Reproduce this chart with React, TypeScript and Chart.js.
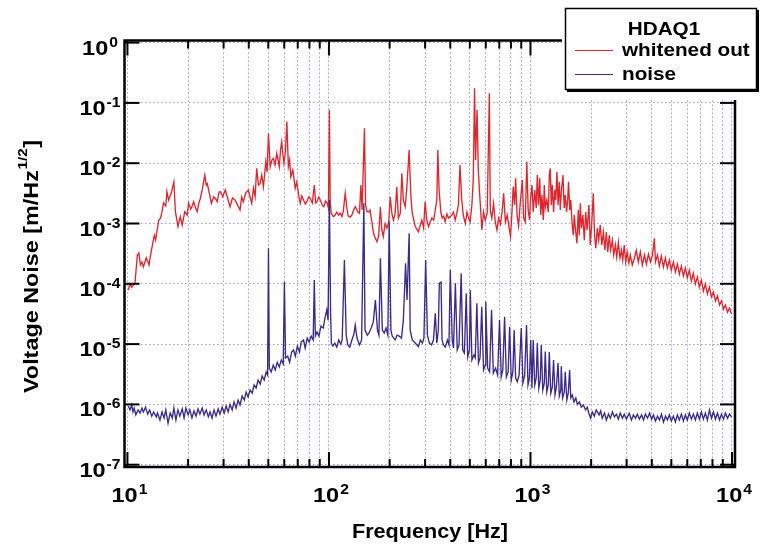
import { useEffect, useRef } from "react";
import { Chart, registerables } from "chart.js";

Chart.register(...registerables);

// ---------- data ----------
const whitenedFreq = [
  10.1, 10.3, 10.5, 10.9, 11.2, 11.4, 11.6, 11.8, 12.0, 12.4, 12.8, 13.0, 13.3, 13.6, 13.8, 14.0, 14.3, 14.6, 14.85, 15.1,
  15.5, 15.7, 16.0, 16.5, 17.0, 17.3, 17.6, 17.8, 18.3, 18.7, 19.25, 19.8, 20.1, 20.6, 20.9, 21.3, 21.8, 22.2, 22.6, 23.0,
  23.5, 24.2, 24.6, 24.9, 25.5, 26.1, 26.8, 27.4, 27.9, 28.5, 29.0, 29.7, 30.6, 31.6, 32.3, 33.2, 34.2, 35.2, 36.2, 36.9,
  37.6, 38.6, 39.8, 40.6, 41.4, 42.2, 43.0, 43.8, 44.7, 45.5, 46.4, 47.3, 48.6, 49.3, 50.1, 51.1, 52.1, 53.0, 54.0, 55.1,
  55.9, 56.7, 57.5, 58.3, 59.1, 59.8, 60.9, 61.8, 62.9, 63.8, 64.7, 66.2, 67.2, 68.0, 69.2, 70.6, 72.0, 73.3, 74.8, 76.3,
  77.7, 79.4, 80.8, 82.7, 84.6, 85.9, 87.3, 88.9, 90.7, 92.5, 94.3, 96.2, 98.1, 99.4, 100.5, 101.4, 102.5, 105.3, 107.3, 109.4,
  111.5, 113.7, 116, 118, 120.4, 122.7, 124.6, 127.4, 130, 132.6, 135, 136.5, 139, 141.7, 144, 146, 150, 152, 154.3, 157.5,
  160, 163.3, 166.4, 169.7, 173, 176.5, 180, 183, 186, 190, 194, 198, 201.4, 205.4, 209, 213, 217, 221, 226, 230,
  234, 239, 243, 250, 255, 259, 268, 278, 284, 289, 295, 300, 306, 312, 318, 324, 331, 337, 343, 347,
  352, 359, 365, 371, 377, 385, 392, 400, 407, 415, 423, 431, 439, 447, 456, 464, 475, 484, 493, 502,
  512, 520, 528, 534, 543, 551, 560, 574, 585, 596, 610, 625, 632, 643, 656, 669, 682, 695, 709, 723,
  736, 751, 766, 780, 796, 808, 821, 834, 844, 858, 873, 888, 911, 925, 942, 959, 974, 990, 1000, 1017,
  1032, 1050, 1068, 1081, 1097, 1112, 1125, 1140, 1158, 1171, 1184, 1205, 1226, 1240, 1254, 1268, 1283, 1302, 1320, 1335,
  1354, 1370, 1390, 1406, 1425, 1450, 1470, 1488, 1510, 1530, 1545, 1567, 1585, 1607, 1630, 1650, 1670, 1700, 1727, 1747,
  1768, 1790, 1820, 1850, 1880, 1910, 1950, 1980, 2015, 2050, 2080, 2110, 2146, 2180, 2220, 2260, 2300, 2340, 2380, 2420,
  2460, 2500, 2550, 2590, 2640, 2680, 2730, 2780, 2830, 2870, 2920, 2970, 3020, 3080, 3130, 3200, 3280, 3350, 3430, 3510,
  3590, 3680, 3760, 3850, 3940, 4030, 4120, 4170, 4270, 4360, 4460, 4570, 4670, 4780, 4890, 5000, 5120, 5240, 5360, 5480,
  5610, 5740, 5870, 6000, 6140, 6290, 6430, 6580, 6730, 6890, 7050, 7210, 7380, 7550, 7730, 7910, 8090, 8280, 8470, 8670,
  8870, 9070, 9280, 9500, 9720, 9950,
];
const whitenedVal = [
  7.9e-5, 1.0e-4, 8.8e-5, 1.03e-4, 3.0e-4, 3.24e-4, 2.05e-4, 2.3e-4, 1.9e-4, 2.7e-4, 2.05e-4, 2.9e-4, 4.4e-4, 6.4e-4, 5.3e-4, 7.3e-4, 1.14e-3, 1.23e-3, 1.57e-3, 2.19e-3,
  1.95e-3, 3.37e-3, 2.45e-3, 3.2e-3, 4.9e-3, 1.57e-3, 1.14e-3, 8.9e-4, 1.3e-3, 9.4e-4, 1.57e-3, 1.38e-3, 2.19e-3, 1.74e-3, 1.9e-3, 2.3e-3, 1.81e-3, 1.57e-3, 2.19e-3, 2.6e-3,
  3.6e-3, 6.36e-3, 4.35e-3, 4.6e-3, 3.17e-3, 2.16e-3, 2.78e-3, 2.55e-3, 2.3e-3, 3.33e-3, 3.37e-3, 2.78e-3, 3.6e-3, 2.45e-3, 1.9e-3, 2.65e-3, 2.45e-3, 2.03e-3, 1.67e-3, 2.75e-3,
  2.3e-3, 3.2e-3, 3.6e-3, 2.75e-3, 2.16e-3, 3.88e-3, 2.78e-3, 8.2e-3, 4.35e-3, 4.6e-3, 6.36e-3, 4.07e-3, 1.06e-2, 7.14e-3, 3.1e-2, 8.76e-3, 1.13e-2, 1.2e-2, 9.3e-3, 1.46e-2,
  1.13e-2, 8.76e-3, 1.65e-2, 2.27e-2, 1.37e-2, 1.0e-2, 1.65e-2, 4.9e-2, 8.76e-3, 1.13e-2, 5.97e-3, 7.7e-3, 5.27e-3, 3.83e-3, 4.88e-3, 3.13e-3, 2.16e-3, 2.86e-3, 2.45e-3, 2.1e-3,
  2.3e-3, 2.75e-3, 2.6e-3, 2.19e-3, 4.35e-3, 2.19e-3, 2.3e-3, 2.75e-3, 2.45e-3, 2.03e-3, 1.9e-3, 2.36e-3, 2.16e-3, 1.81e-3, 7.6e-2, 2.45e-3, 1.48e-3, 1.3e-3, 1.38e-3, 1.55e-3,
  1.38e-3, 1.48e-3, 1.3e-3, 1.67e-3, 3.17e-3, 1.79e-3, 1.33e-3, 1.28e-3, 1.38e-3, 1.67e-3, 1.9e-3, 1.79e-3, 1.55e-3, 1.48e-3, 4.35e-3, 1.67e-3, 3.8e-2, 2.03e-3, 1.57e-3, 1.55e-3,
  1.67e-3, 1.06e-3, 6.9e-4, 5.75e-4, 5.0e-4, 6.2e-4, 1.9e-3, 7.8e-4, 6.05e-4, 1.0e-3, 8.4e-4, 1.06e-3, 2.78e-3, 1.44e-3, 1.14e-3, 1.49e-3, 4.07e-3, 1.23e-3, 1.48e-3, 6.8e-3,
  2.45e-3, 1.9e-3, 3.6e-3, 1.66e-2, 2.86e-3, 1.49e-3, 8.9e-4, 7.3e-4, 9.4e-4, 1.14e-3, 8.4e-4, 2.3e-3, 1.14e-3, 8.9e-4, 1.06e-3, 1.23e-3, 1.14e-3, 1.67e-3, 2.45e-3, 1.66e-2,
  3.6e-3, 1.55e-3, 1.23e-3, 1.33e-3, 1.07e-3, 1.44e-3, 1.23e-3, 1.3e-3, 1.38e-3, 1.55e-3, 1.14e-3, 1.49e-3, 2.03e-3, 9.3e-3, 2.45e-3, 1.38e-3, 1.0e-3, 1.55e-3, 1.23e-3, 1.06e-3,
  2.03e-3, 5.27e-3, 0.175, 1.13e-2, 7.6e-2, 7.7e-3, 2.97e-3, 7.8e-4, 1.55e-3, 1.14e-3, 1.49e-3, 0.144, 1.67e-3, 1.23e-3, 2.16e-3, 1.06e-3, 7.8e-4, 1.23e-3, 9.8e-4, 1.55e-3,
  3.17e-3, 1.06e-3, 1.38e-3, 9.4e-4, 6.05e-4, 1.38e-3, 4.07e-3, 2.03e-3, 5.6e-3, 1.38e-3, 9.1e-4, 2.03e-3, 5.27e-3, 1.23e-3, 1.06e-3, 1.06e-2, 1.67e-3, 1.14e-3, 2.45e-3, 4.35e-3,
  1.55e-3, 3.6e-3, 1.81e-3, 6.36e-3, 2.03e-3, 5.68e-3, 1.38e-3, 2.97e-3, 1.14e-3, 4.35e-3, 1.81e-3, 2.45e-3, 1.55e-3, 6.36e-3, 8.2e-3, 2.03e-3, 4.35e-3, 1.55e-3, 3.6e-3, 2.45e-3,
  7.2e-3, 2.03e-3, 4.88e-3, 1.67e-3, 3.6e-3, 6.36e-3, 1.81e-3, 2.97e-3, 1.55e-3, 2.45e-3, 4.9e-3, 1.67e-3, 2.45e-3, 1.07e-3, 6.4e-4, 1.38e-3, 8.4e-4, 4.7e-4, 1.67e-3, 6.4e-4,
  2.16e-3, 8.4e-4, 1.38e-3, 5.3e-4, 1.55e-3, 7.8e-4, 2.03e-3, 4.4e-4, 1.06e-3, 3.17e-3, 6.4e-4, 3.9e-4, 8.4e-4, 5.3e-4, 9.4e-4, 4.4e-4, 7.2e-4, 3.63e-4, 7.2e-4, 3.37e-4,
  6.4e-4, 3.63e-4, 5.3e-4, 3.0e-4, 4.4e-4, 2.78e-4, 4.9e-4, 2.68e-4, 3.63e-4, 2.48e-4, 4.4e-4, 2.3e-4, 3.37e-4, 2.2e-4, 3.0e-4, 2.05e-4, 2.68e-4, 3.63e-4, 2.3e-4, 3.37e-4,
  2.05e-4, 3.0e-4, 2.12e-4, 3.1e-4, 2.3e-4, 3.0e-4, 5.68e-4, 2.3e-4, 3.0e-4, 1.97e-4, 2.9e-4, 1.9e-4, 2.68e-4, 1.83e-4, 2.48e-4, 1.68e-4, 2.3e-4, 1.57e-4, 2.12e-4, 1.45e-4,
  1.97e-4, 1.35e-4, 1.83e-4, 1.25e-4, 1.68e-4, 1.11e-4, 1.5e-4, 9.9e-5, 1.3e-4, 8.8e-5, 1.15e-4, 7.6e-5, 9.9e-5, 6.8e-5, 8.8e-5, 6.05e-5, 7.3e-5, 5.2e-5, 6.3e-5, 4.45e-5,
  5.2e-5, 3.8e-5, 4.45e-5, 3.4e-5, 3.95e-5, 3.15e-5,
];

const noiseFreq = [
  10.1, 10.3, 10.5, 10.65, 10.8, 11.0, 11.3, 11.55, 11.8, 12.0, 12.3, 12.6, 12.9, 13.2, 13.5, 13.9, 14.1, 14.5, 14.85, 15.2,
  15.5, 15.9, 16.3, 16.7, 17.0, 17.4, 17.8, 18.2, 18.7, 19.1, 19.5, 20.0, 20.4, 20.9, 21.4, 21.9, 22.4, 22.9, 23.5, 24.0,
  24.6, 25.2, 25.7, 26.3, 26.9, 27.5, 28.2, 28.8, 29.5, 30.2, 30.9, 31.6, 32.3, 33.1, 33.8, 34.6, 35.4, 36.2, 37.1, 38.0,
  38.8, 39.7, 40.6, 41.6, 42.5, 43.5, 44.5, 45.6, 46.6, 47.7, 48.8, 49.6, 50.1, 50.6, 51.7, 52.9, 54.1, 55.4, 56.7, 58.0,
  59.3, 60.1, 60.9, 62.4, 63.8, 65.3, 66.7, 68.1, 69.7, 71.4, 72.8, 74.8, 76.2, 78.0, 79.8, 81.6, 83.5, 84.6, 85.6, 87.3,
  89.2, 91.3, 93.7, 95.5, 97.6, 99.0, 100.5, 101.9, 102.8, 104.6, 106.9, 109.3, 111.8, 114.4, 116.3, 119.3, 121.8, 124.0, 126.9, 130.0,
  133.0, 135.0, 137.8, 141.8, 145.2, 149, 151, 155, 158, 162, 166, 170, 174, 177, 180, 184, 188, 192, 196, 199,
  203, 206, 213, 218, 223, 229, 234, 240, 244, 250, 253, 259, 268, 278, 284, 291, 296, 302, 308, 315,
  323, 330, 337, 343, 349, 353, 360, 364, 370, 378, 387, 394, 400, 409, 415, 424, 433, 442, 453, 461,
  470, 480, 488, 498, 503, 512, 524, 532, 542, 552, 562, 573, 585, 597, 600, 613, 627, 641, 654, 671,
  687, 702, 716, 729, 744, 759, 775, 788, 803, 818, 830, 844, 860, 878, 900, 917, 935, 956, 972, 988,
  1003, 1017, 1032, 1050, 1068, 1081, 1100, 1118, 1131, 1151, 1171, 1184, 1205, 1226, 1240, 1261, 1283, 1302, 1323, 1343,
  1370, 1390, 1414, 1422, 1443, 1471, 1488, 1515, 1540, 1564, 1585, 1613, 1644, 1679, 1708, 1748, 1788, 1830, 1877, 1914,
  1947, 1987, 2026, 2073, 2120, 2190, 2230, 2270, 2330, 2380, 2440, 2490, 2550, 2610, 2670, 2730, 2790, 2860, 2920, 2990,
  3090, 3170, 3240, 3320, 3390, 3470, 3560, 3640, 3720, 3810, 3900, 3990, 4080, 4170, 4270, 4370, 4470, 4570, 4680, 4780,
  4890, 5000, 5120, 5240, 5360, 5480, 5610, 5740, 5870, 6000, 6140, 6290, 6430, 6580, 6730, 6890, 7050, 7210, 7380, 7550,
  7730, 7910, 8090, 8280, 8470, 8670, 8870, 9070, 9280, 9500, 9720, 9950,
];
const noiseVal = [
  9.4e-7, 8.1e-7, 9.8e-7, 7.5e-7, 8.7e-7, 6.7e-7, 8.1e-7, 7.2e-7, 8.7e-7, 7.5e-7, 9.0e-7, 6.9e-7, 8.1e-7, 6.4e-7, 7.5e-7, 6.2e-7, 7.2e-7, 5.5e-7, 7.5e-7, 5.95e-7,
  8.1e-7, 4.9e-7, 7.2e-7, 5.95e-7, 8.7e-7, 5.5e-7, 8.1e-7, 6.4e-7, 8.4e-7, 5.95e-7, 8.7e-7, 6.7e-7, 8.1e-7, 5.95e-7, 7.8e-7, 6.4e-7, 8.4e-7, 6.9e-7, 8.7e-7, 6.7e-7,
  8.1e-7, 6.2e-7, 7.5e-7, 5.95e-7, 8.1e-7, 6.4e-7, 8.4e-7, 6.9e-7, 9.0e-7, 7.2e-7, 9.4e-7, 7.5e-7, 1.0e-6, 8.1e-7, 1.1e-6, 8.7e-7, 1.18e-6, 9.8e-7, 1.38e-6, 1.18e-6,
  1.6e-6, 1.33e-6, 1.73e-6, 1.54e-6, 2.1e-6, 1.87e-6, 2.54e-6, 2.18e-6, 2.96e-6, 2.54e-6, 3.45e-6, 3.07e-6, 3.9e-4, 4.0e-6, 3.45e-6, 4.5e-6, 3.72e-6, 5.0e-6, 4.17e-6, 5.45e-6,
  4.7e-6, 1.08e-4, 5.9e-6, 6.3e-6, 5.0e-6, 7.4e-6, 8.0e-6, 6.3e-6, 9.3e-6, 7.4e-6, 1.08e-5, 1.17e-5, 8.6e-6, 1.26e-5, 1.08e-5, 1.36e-5, 1.17e-5, 1.16e-4, 1.36e-5, 1.59e-5,
  1.36e-5, 2.0e-5, 1.85e-5, 2.7e-5, 3.7e-5, 2.5e-5, 2.45e-3, 3.28e-5, 1.03e-5, 9.3e-6, 1.04e-5, 8.9e-6, 1.17e-5, 1.0e-5, 1.17e-5, 2.48e-4, 1.41e-5, 9.7e-6, 8.9e-6, 1.17e-5,
  1.47e-5, 2.07e-5, 1.26e-5, 9.7e-6, 1.17e-5, 2.16e-3, 1.71e-5, 1.41e-5, 1.53e-5, 1.85e-5, 2.33e-5, 5.4e-5, 1.71e-5, 1.41e-5, 2.65e-4, 1.71e-5, 1.53e-5, 1.85e-5, 1.41e-5, 1.07e-3,
  1.71e-5, 1.36e-5, 1.17e-5, 1.41e-5, 1.36e-5, 1.26e-5, 2.5e-5, 2.19e-4, 5.4e-5, 6.9e-4, 1.71e-5, 1.17e-5, 1.04e-5, 9.05e-6, 1.17e-5, 1.04e-5, 1.26e-5, 2.48e-4, 1.41e-5, 1.04e-5,
  9.7e-6, 1.17e-5, 3.24e-5, 1.04e-5, 1.71e-5, 1.02e-4, 1.07e-4, 1.17e-5, 9.7e-6, 8.9e-6, 1.17e-5, 9.7e-6, 1.69e-4, 1.17e-5, 8.6e-6, 1.02e-4, 8.0e-6, 9.7e-6, 1.49e-4, 8.0e-6,
  7.1e-6, 6.95e-5, 6.1e-6, 8.0e-6, 7.9e-5, 5.45e-6, 6.6e-6, 5.9e-6, 4.75e-5, 4.85e-6, 5.9e-6, 4.17e-5, 3.72e-6, 4.5e-6, 5.05e-5, 4.0e-6, 3.45e-6, 3.68e-5, 3.3e-6, 4.0e-6,
  3.07e-6, 2.5e-5, 2.85e-6, 3.72e-6, 2.85e-5, 2.85e-6, 3.45e-6, 1.94e-5, 2.54e-6, 3.45e-6, 1.71e-5, 2.74e-6, 2.38e-6, 3.07e-6, 1.85e-5, 2.26e-6, 2.96e-6, 2.07e-5, 2.1e-6, 2.74e-6,
  1.17e-5, 1.85e-6, 1.17e-5, 2.1e-6, 2.74e-6, 1.04e-5, 1.86e-6, 2.54e-6, 9.7e-6, 1.73e-6, 2.26e-6, 7.5e-6, 1.6e-6, 2.1e-6, 7.4e-6, 1.54e-6, 1.94e-6, 5.45e-6, 1.43e-6, 1.87e-6,
  4.85e-6, 1.38e-6, 1.73e-6, 4.3e-6, 1.28e-6, 1.6e-6, 3.49e-6, 1.18e-6, 1.54e-6, 3.72e-6, 1.28e-6, 1.43e-6, 1.1e-6, 1.28e-6, 1.0e-6, 1.1e-6, 9.0e-7, 9.8e-7, 8.1e-7, 9.0e-7,
  7.2e-7, 5.9e-7, 7.5e-7, 6.4e-7, 8.1e-7, 6.7e-7, 7.8e-7, 5.9e-7, 7.2e-7, 5.5e-7, 6.9e-7, 5.9e-7, 7.5e-7, 6.2e-7, 6.9e-7, 5.7e-7, 7.2e-7, 5.9e-7, 6.9e-7, 5.7e-7,
  7.1e-7, 5.5e-7, 6.7e-7, 5.9e-7, 6.9e-7, 5.7e-7, 6.7e-7, 5.5e-7, 6.9e-7, 5.9e-7, 7.2e-7, 5.7e-7, 6.7e-7, 5.3e-7, 6.4e-7, 5.5e-7, 6.9e-7, 5.1e-7, 6.4e-7, 5.5e-7,
  6.7e-7, 5.3e-7, 6.4e-7, 5.1e-7, 6.7e-7, 5.5e-7, 6.9e-7, 5.3e-7, 6.7e-7, 5.5e-7, 7.2e-7, 5.7e-7, 6.9e-7, 5.5e-7, 7.2e-7, 5.7e-7, 7.5e-7, 5.7e-7, 7.2e-7, 5.5e-7,
  8.1e-7, 5.9e-7, 7.5e-7, 5.7e-7, 7.2e-7, 5.5e-7, 6.9e-7, 5.7e-7, 7.2e-7, 5.9e-7, 6.9e-7, 6.2e-7,
];

const xTickValues = [
  10, 20, 30, 40, 50, 60, 70, 80, 90,
  100, 200, 300, 400, 500, 600, 700, 800, 900,
  1000, 2000, 3000, 4000, 5000, 6000, 7000, 8000, 9000, 10000,
];
const xLabelValues = [10, 100, 1000, 10000];
const xLabelExps = ["1", "2", "3", "4"];
const yTickValues = [1e-7, 1e-6, 1e-5, 1e-4, 1e-3, 1e-2, 1e-1, 1];
const yLabelExps = ["-7", "-6", "-5", "-4", "-3", "-2", "-1", "0"];

const legendTitle = "HDAQ1";
const seriesNames = ["whitened out", "noise"];
const xTitle = "Frequency [Hz]";
const yTitleMain = "Voltage Noise [m/Hz";
const yTitleSup = "1/2";
const yTitleEnd = "]";

const RED = "#e1252d";
const BLUE = "#3b2a8a";
const FONT = "'Liberation Sans', Arial, Helvetica, sans-serif";
const SX = 1.12;

function measure(ctx: CanvasRenderingContext2D, s: string, size: number, sx = SX) {
  ctx.font = `bold ${size}px ${FONT}`;
  return ctx.measureText(s).width * sx;
}

function drawText(
  ctx: CanvasRenderingContext2D,
  s: string,
  x: number,
  y: number,
  size: number,
  align: "left" | "center" | "right",
  sx = SX
) {
  ctx.font = `bold ${size}px ${FONT}`;
  const w = ctx.measureText(s).width * sx;
  const x0 = align === "left" ? x : align === "center" ? x - w / 2 : x - w;
  ctx.save();
  ctx.translate(x0, y);
  ctx.scale(sx, 1);
  ctx.textAlign = "left";
  ctx.textBaseline = "alphabetic";
  ctx.fillText(s, 0, 0);
  ctx.restore();
  return w;
}

function powLabel(ctx: CanvasRenderingContext2D, exp: string, cx: number, baseline: number) {
  const wb = measure(ctx, "10", 21);
  const we = measure(ctx, exp, 14);
  const total = wb + 1 + we;
  const x0 = cx - total / 2;
  drawText(ctx, "10", x0, baseline, 21, "left");
  drawText(ctx, exp, x0 + wb + 1, baseline - 8, 14, "left");
}

const decorPlugin = {
  id: "decor",
  afterDraw(chart: any) {
    const ctx: CanvasRenderingContext2D = chart.ctx;
    const a = chart.chartArea;
    const xs = chart.scales.x;
    const ys = chart.scales.y;
    ctx.save();
    ctx.strokeStyle = "#000";
    ctx.fillStyle = "#000";
    ctx.lineCap = "butt";

    const seg = (x1: number, y1: number, x2: number, y2: number) => {
      ctx.beginPath();
      ctx.moveTo(x1, y1);
      ctx.lineTo(x2, y2);
      ctx.stroke();
    };

    // ticks (inward)
    ctx.lineWidth = 2;
    xTickValues.forEach((v) => {
      const px = xs.getPixelForValue(v);
      const len = xLabelValues.includes(v) ? 15 : 8;
      seg(px, a.bottom, px, a.bottom - len);
      seg(px, a.top, px, a.top + len);
    });
    yTickValues.forEach((v) => {
      const py = ys.getPixelForValue(v);
      seg(a.left, py, a.left + 15, py);
      seg(a.right, py, a.right - 15, py);
    });

    // frame
    ctx.lineWidth = 2.5;
    ctx.strokeRect(a.left, a.top, a.right - a.left, a.bottom - a.top);

    // tick labels
    yTickValues.forEach((v, i) => {
      powLabel(ctx, yLabelExps[i], 100, ys.getPixelForValue(v) + 12);
    });
    xLabelValues.forEach((v, i) => {
      powLabel(ctx, xLabelExps[i], xs.getPixelForValue(v) + 2, 502);
    });

    // x title
    {
      const natural = measure(ctx, xTitle, 20, 1);
      drawText(ctx, xTitle, 430, 538, 20, "center", 156 / natural);
    }

    // y title (rotated)
    {
      const w1 = measure(ctx, yTitleMain, 20, 1);
      const w2 = measure(ctx, yTitleSup, 13, 1);
      const w3 = measure(ctx, yTitleEnd, 20, 1);
      const W = w1 + w2 + w3 + 1;
      const s = 253 / W;
      ctx.save();
      ctx.translate(38, 266.5);
      ctx.rotate(-Math.PI / 2);
      ctx.scale(s, 1);
      const x0 = -W / 2;
      drawText(ctx, yTitleMain, x0, 0, 20, "left", 1);
      drawText(ctx, yTitleSup, x0 + w1 + 0.5, -11, 13, "left", 1);
      drawText(ctx, yTitleEnd, x0 + w1 + w2 + 1, 0, 20, "left", 1);
      ctx.restore();
    }

    // legend
    ctx.fillStyle = "#fff";
    ctx.fillRect(562, 0, 201, 100);
    ctx.fillStyle = "#000";
    ctx.fillRect(567, 89, 192, 3);
    ctx.fillRect(756, 10, 3, 82);
    ctx.fillStyle = "#fff";
    ctx.fillRect(565.5, 8.5, 191, 81);
    ctx.lineWidth = 1.5;
    ctx.strokeStyle = "#000";
    ctx.strokeRect(565.5, 8.5, 191, 81);
    ctx.fillStyle = "#000";
    drawText(ctx, legendTitle, 664, 35, 18.5, "center");
    drawText(ctx, seriesNames[0], 622, 56, 18.5, "left");
    drawText(ctx, seriesNames[1], 622, 80, 18.5, "left");
    ctx.lineWidth = 1;
    ctx.strokeStyle = RED;
    seg(575, 50.5, 613, 50.5);
    ctx.strokeStyle = BLUE;
    seg(575, 74.5, 613, 74.5);

    ctx.restore();
  },
};

export default function App() {
  const ref = useRef<HTMLCanvasElement | null>(null);

  useEffect(() => {
    if (!ref.current) return;
    const noisePts = noiseFreq.map((f, i) => ({ x: f, y: noiseVal[i] }));
    const whitenedPts = whitenedFreq.map((f, i) => ({ x: f, y: whitenedVal[i] }));
    const gridColor = "rgba(135,128,210,0.8)";
    const chart = new Chart(ref.current, {
      type: "line",
      data: {
        datasets: [
          {
            label: seriesNames[1],
            data: noisePts,
            borderColor: BLUE,
            borderWidth: 1.35,
            pointRadius: 0,
            fill: false,
            tension: 0,
          },
          {
            label: seriesNames[0],
            data: whitenedPts,
            borderColor: RED,
            borderWidth: 1.35,
            pointRadius: 0,
            fill: false,
            tension: 0,
          },
        ],
      },
      options: {
        responsive: false,
        animation: false,
        events: [],
        layout: { padding: { left: 0, top: 40.5, right: 28, bottom: 0 } },
        plugins: {
          legend: { display: false },
          tooltip: { enabled: false },
          title: { display: false },
        },
        scales: {
          x: {
            type: "logarithmic",
            min: 9.67,
            max: 10350,
            ticks: { display: false },
            grid: { color: gridColor, lineWidth: 1, drawTicks: false },
            border: { display: false, dash: [1.5, 2.5] },
            afterBuildTicks: (scale: any) => {
              scale.ticks = xTickValues.map((v) => ({ value: v }));
            },
            afterFit: (scale: any) => {
              scale.height = 81;
            },
          },
          y: {
            type: "logarithmic",
            min: 9.16e-8,
            max: 1.084,
            ticks: { display: false },
            grid: { color: gridColor, lineWidth: 1, drawTicks: false },
            border: { display: false, dash: [1.5, 2.5] },
            afterBuildTicks: (scale: any) => {
              scale.ticks = yTickValues.map((v) => ({ value: v }));
            },
            afterFit: (scale: any) => {
              scale.width = 124.5;
            },
          },
        },
      } as any,
      plugins: [decorPlugin],
    });
    return () => chart.destroy();
  }, []);

  return (
    <div style={{ position: "absolute", left: 0, top: 0, width: 763, height: 548, background: "#fff" }}>
      <canvas ref={ref} width={763} height={548} style={{ display: "block", width: 763, height: 548 }} />
    </div>
  );
}
